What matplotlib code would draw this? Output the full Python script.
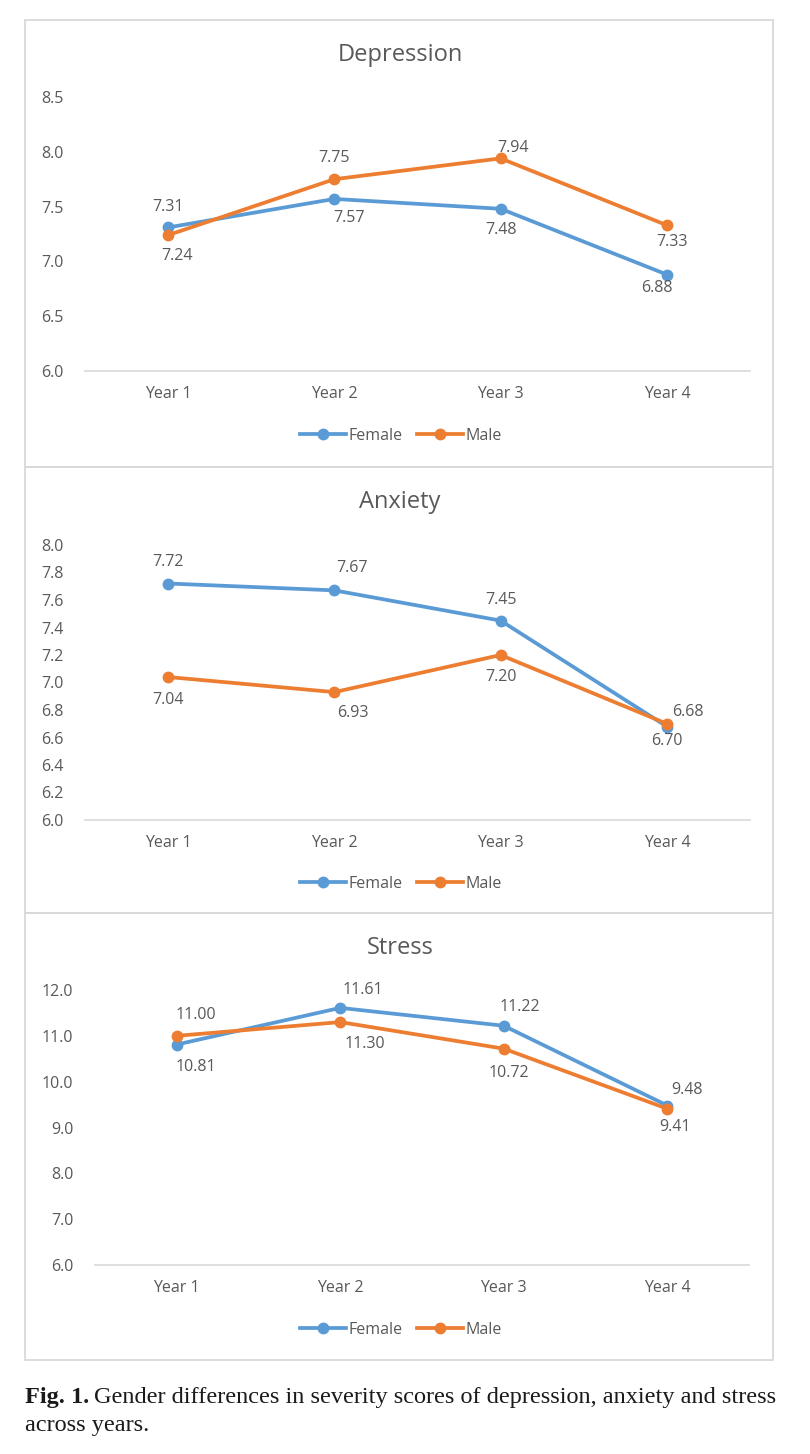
import matplotlib
matplotlib.use("Agg")
import matplotlib.pyplot as plt
from matplotlib.patches import Rectangle
from matplotlib.lines import Line2D

years = ["Year 1", "Year 2", "Year 3", "Year 4"]

dep_female = [7.31, 7.57, 7.48, 6.88]
dep_male = [7.24, 7.75, 7.94, 7.33]
anx_female = [7.72, 7.67, 7.45, 6.68]
anx_male = [7.04, 6.93, 7.20, 6.70]
str_female = [10.81, 11.61, 11.22, 9.48]
str_male = [11.00, 11.30, 10.72, 9.41]

dep_ticks = [6.0, 6.5, 7.0, 7.5, 8.0, 8.5]
anx_ticks = [6.0, 6.2, 6.4, 6.6, 6.8, 7.0, 7.2, 7.4, 7.6, 7.8, 8.0]
str_ticks = [6.0, 7.0, 8.0, 9.0, 10.0, 11.0, 12.0]

W, H = 810, 1454
BLUE = "#5B9BD5"
ORANGE = "#ED7D31"
TXT = "#595959"
GRID = "#D9D9D9"
FONT = "Open Sans"
FS = 11.5

fig = plt.figure(figsize=(W / 100, H / 100), dpi=100)
fig.patch.set_facecolor("white")

def fx(px):
    return px / W

def fy(py):
    return 1 - py / H

# panel borders
for top, bot in [(20, 467), (467, 913), (913, 1360)]:
    fig.patches.append(Rectangle((fx(25), fy(bot)), fx(773) - fx(25), fy(top) - fy(bot),
                                 transform=fig.transFigure, fill=False,
                                 edgecolor=GRID, linewidth=1.3, zorder=0))

panels = [
    dict(title="Depression", f=dep_female, m=dep_male, ticks=dep_ticks, fmt="{:.1f}",
         left=85, right=750, top=97, bottom=371, title_y=55, leg_y=436,
         f_off=[(0, 20), (15, -19), (0, -21), (-10, -13)],
         m_off=[(9, -21), (0, 21), (12, 10), (5, -17)]),
    dict(title="Anxiety", f=anx_female, m=anx_male, ticks=anx_ticks, fmt="{:.1f}",
         left=85, right=750, top=545, bottom=820, title_y=502, leg_y=884,
         f_off=[(0, 21), (18, 22), (0, 21), (21, 15)],
         m_off=[(0, -23), (18, -21), (0, -22), (0, -17)]),
    dict(title="Stress", f=str_female, m=str_male, ticks=str_ticks, fmt="{:.1f}",
         left=95, right=749, top=990, bottom=1265, title_y=948, leg_y=1330,
         f_off=[(19, -22), (23, 18), (16, 19), (20, 15)],
         m_off=[(19, 21), (25, -22), (5, -24), (8, -18)]),
]

x = list(range(len(years)))
for p in panels:
    ax = fig.add_axes([fx(p["left"]), fy(p["bottom"]), fx(p["right"]) - fx(p["left"]),
                       fy(p["top"]) - fy(p["bottom"])])
    ax.set_xlim(-0.5, len(years) - 0.5)
    ax.set_ylim(p["ticks"][0], p["ticks"][-1])
    ax.set_yticks(p["ticks"])
    ax.set_yticklabels([p["fmt"].format(t) for t in p["ticks"]], fontsize=FS,
                       color=TXT, family=FONT)
    ax.set_xticks(x)
    ax.set_xticklabels(years, fontsize=FS, color=TXT, family=FONT)
    ax.tick_params(axis="both", length=0)
    ax.tick_params(axis="y", pad=15.5)
    ax.tick_params(axis="x", pad=11)
    for s in ["top", "right", "left"]:
        ax.spines[s].set_visible(False)
    ax.spines["bottom"].set_color(GRID)
    ax.spines["bottom"].set_linewidth(1.2)
    ax.patch.set_alpha(0)
    ax.plot(x, p["f"], color=BLUE, lw=2.7, marker="o", ms=7.5, label="Female",
            clip_on=False, zorder=3, solid_capstyle="round")
    ax.plot(x, p["m"], color=ORANGE, lw=2.7, marker="o", ms=7.5, label="Male",
            clip_on=False, zorder=4, solid_capstyle="round")
    for xi, v, off in zip(x, p["f"], p["f_off"]):
        ax.annotate(f"{v:.2f}", (xi, v), xytext=off, textcoords="offset pixels",
                    ha="center", va="center", fontsize=FS, color=TXT, family=FONT,
                    zorder=5)
    for xi, v, off in zip(x, p["m"], p["m_off"]):
        ax.annotate(f"{v:.2f}", (xi, v), xytext=off, textcoords="offset pixels",
                    ha="center", va="center", fontsize=FS, color=TXT, family=FONT,
                    zorder=5)
    fig.text(fx(400), fy(p["title_y"]), p["title"], ha="center", va="center",
             fontsize=17, color=TXT, family=FONT)
    handles = [Line2D([], [], color=BLUE, lw=2.7, marker="o", ms=7.5),
               Line2D([], [], color=ORANGE, lw=2.7, marker="o", ms=7.5)]
    fig.legend(handles, ["Female", "Male"], loc="center",
               bbox_to_anchor=(fx(401), fy(p["leg_y"])), ncol=2, frameon=False,
               prop={"family": FONT, "size": FS}, labelcolor=TXT,
               handlelength=2.9, handletextpad=0.15, columnspacing=0.9)

CAP_FS = 17.5
t1 = fig.text(fx(25), fy(1397), "Fig. 1.", ha="left", va="center", fontsize=CAP_FS,
              family="Liberation Serif", weight="bold", color="#1a1a1a")
fig.canvas.draw()
bb = t1.get_window_extent()
fig.text(bb.x1 / W + fx(5), fy(1397),
         "Gender differences in severity scores of depression, anxiety and stress",
         ha="left", va="center", fontsize=CAP_FS, family="Liberation Serif", color="#1a1a1a")
fig.text(fx(25), fy(1426), "across years.", ha="left", va="center", fontsize=CAP_FS,
         family="Liberation Serif", color="#1a1a1a")

fig.savefig("out.png", dpi=100, facecolor="white")
